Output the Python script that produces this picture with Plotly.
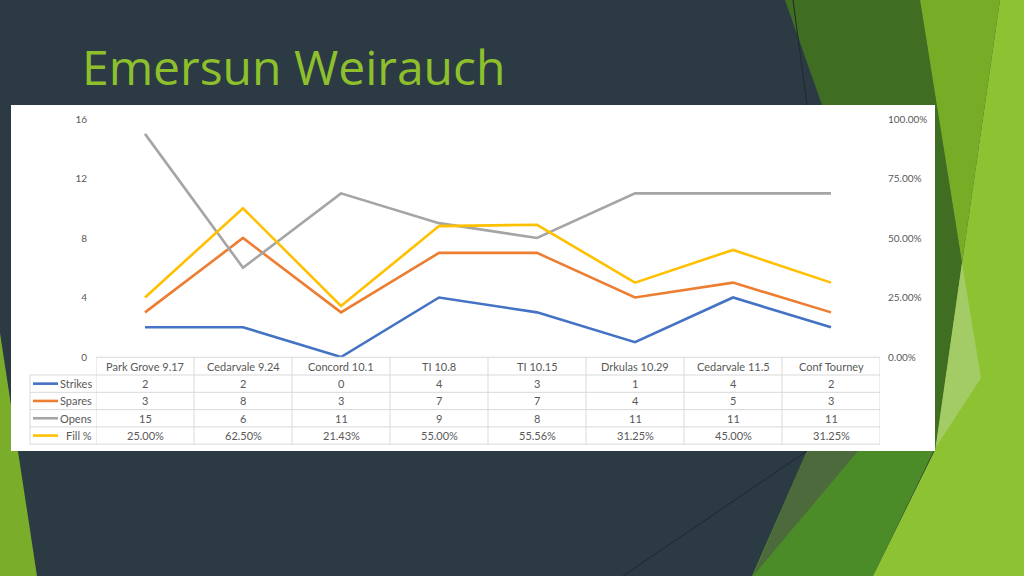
import plotly.graph_objects as go

# ---------------- data ----------------
categories = ["Park Grove 9.17", "Cedarvale 9.24", "Concord 10.1", "TI 10.8",
              "TI 10.15", "Drkulas 10.29", "Cedarvale 11.5", "Conf Tourney"]
strikes = [2, 2, 0, 4, 3, 1, 4, 2]
spares = [3, 8, 3, 7, 7, 4, 5, 3]
opens = [15, 6, 11, 9, 8, 11, 11, 11]
fill_pct = [0.25, 0.625, 0.2143, 0.55, 0.5556, 0.3125, 0.45, 0.3125]
series_names = ["Strikes", "Spares", "Opens", "Fill %"]
left_ticks = [0, 4, 8, 12, 16]
right_ticks = [0, 0.25, 0.5, 0.75, 1.0]
title_text = "Emersun Weirauch"

# ---------------- style ----------------
W, H = 1024, 576
def px(x): return x / W
def py(y): return 1 - y / H

colors = ["#4472C4", "#ED7D31", "#A5A5A5", "#FFC000"]
BG = "#2C3A44"
TXT = "#595959"
GRID = "#D9D9D9"
FONT = "Lato"
CLEAR = "rgba(0,0,0,0)"

fig = go.Figure()

counts = [strikes, spares, opens]
for name, vals, col in zip(series_names[:3], counts, colors[:3]):
    fig.add_trace(go.Scatter(x=categories, y=vals, mode="lines", name=name,
                             line=dict(color=col, width=2.6), cliponaxis=False,
                             yaxis="y", xaxis="x"))
fig.add_trace(go.Scatter(x=categories, y=fill_pct, mode="lines", name=series_names[3],
                         line=dict(color=colors[3], width=2.6), cliponaxis=False,
                         yaxis="y2", xaxis="x"))

shapes = []
annotations = []

def poly(pts, color, layer="below"):
    path = "M " + " L ".join(f"{px(x)},{py(y)}" for x, y in pts) + " Z"
    return dict(type="path", xref="paper", yref="paper", path=path,
                fillcolor=color, line=dict(width=0), layer=layer)

# decorative slide background
shapes.append(poly([(785, 0), (920, 0), (962, 263), (935, 450), (860, 451), (822, 105)], "#3F6E23"))
shapes.append(poly([(807, 451), (935, 448), (873, 576), (752, 576)], "#4B8C29"))
shapes.append(poly([(807, 451), (858, 451), (753, 576)], "#4D6A3C"))
shapes.append(poly([(920, 0), (1000, 0), (962, 263)], "#77AC26"))
shapes.append(poly([(1000, 0), (1024, 0), (1024, 576), (873, 576), (935, 450), (962, 263)], "#8DC232"))
shapes.append(poly([(962, 263), (981, 378), (936, 447)], "#A3CC66"))
shapes.append(poly([(0, 333), (37, 576), (0, 576)], "#7AAE2A"))
shapes.append(dict(type="line", xref="paper", yref="paper", x0=px(793), y0=py(0), x1=px(807), y1=py(105),
                   line=dict(color="#1E2830", width=1), layer="below"))
shapes.append(dict(type="line", xref="paper", yref="paper", x0=px(623), y0=py(576), x1=px(807), y1=py(451),
                   line=dict(color="#1E2830", width=1), layer="below"))
shapes.append(dict(type="rect", xref="paper", yref="paper", x0=px(11), x1=px(935),
                   y0=py(451), y1=py(105), fillcolor="white", line=dict(width=0), layer="below"))

# ---------------- data table (aligned to the category axis) ----------------
table_top = 357.3
header_h, row_h = 17.7, 17.3
label_left = 30
n = len(categories)
row_values = [[str(v) for v in strikes], [str(v) for v in spares],
              [str(v) for v in opens], [f"{v:.2%}" for v in fill_pct]]
cell_font = dict(family=FONT, size=11, color=TXT)
grid_line = dict(color=GRID, width=1)

body_top = table_top + header_h
table_bottom = body_top + row_h * len(series_names)
for j, cat in enumerate(categories):
    annotations.append(dict(text=cat, x=cat, xref="x", y=py(table_top + header_h / 2), yref="paper",
                            xanchor="center", yanchor="middle", showarrow=False, font=cell_font))
shapes.append(dict(type="line", xref="x", yref="paper", x0=-0.5, x1=n - 0.5,
                   y0=py(table_top), y1=py(table_top), line=grid_line))
for i in range(len(series_names) + 1):
    yl = body_top + row_h * i
    shapes.append(dict(type="line", xref="paper", yref="paper", x0=px(label_left), x1=px(880),
                       y0=py(yl), y1=py(yl), line=grid_line))
for j in range(n + 1):
    shapes.append(dict(type="line", xref="x", yref="paper", x0=j - 0.5, x1=j - 0.5,
                       y0=py(table_top), y1=py(table_bottom), line=grid_line))
shapes.append(dict(type="line", xref="paper", yref="paper", x0=px(label_left), x1=px(label_left),
                   y0=py(body_top), y1=py(table_bottom), line=grid_line))
for i, (name, col, vals) in enumerate(zip(series_names, colors, row_values)):
    yc = py(body_top + row_h * (i + 0.5))
    annotations.append(dict(text=name, x=px(94), xref="paper", y=yc, yref="paper",
                            xanchor="right", yanchor="middle", showarrow=False, font=cell_font))
    shapes.append(dict(type="line", xref="paper", yref="paper", x0=px(33), x1=px(58),
                       y0=yc, y1=yc, line=dict(color=col, width=2.6)))
    for j, cat in enumerate(categories):
        annotations.append(dict(text=vals[j], x=cat, xref="x", y=yc, yref="paper",
                                xanchor="center", yanchor="middle", showarrow=False, font=cell_font))

annotations.append(dict(text=title_text, xref="paper", yref="paper", x=px(80), y=py(66),
                        xanchor="left", yanchor="middle", showarrow=False,
                        font=dict(family="Open Sans", size=48, color="#8DC02C")))

fig.update_layout(
    width=W, height=H, margin=dict(l=0, r=0, t=0, b=0, pad=0, autoexpand=False),
    paper_bgcolor=BG, plot_bgcolor=CLEAR, showlegend=False,
    font=dict(family=FONT, color=TXT),
    xaxis=dict(domain=[px(96), px(880)], range=[-0.5, n - 0.5], automargin=False,
               showticklabels=False, showgrid=False, zeroline=False, showline=False, ticks=""),
    yaxis=dict(domain=[py(357), py(119)], range=[0, 16], tickvals=left_ticks, automargin=False,
               showgrid=False, zeroline=False, showline=False, ticks="",
               tickfont=dict(family=FONT, size=10, color=TXT), ticklabelstandoff=8),
    yaxis2=dict(overlaying="y", side="right", range=[0, 1], tickvals=right_ticks, automargin=False,
                tickformat=".2%", showgrid=False, zeroline=False, showline=False, ticks="",
                tickfont=dict(family=FONT, size=10, color=TXT), ticklabelstandoff=7),
    shapes=shapes,
    annotations=annotations,
)

fig.write_html("out.html", config={"displayModeBar": False},
               post_script="document.body.style.margin='0px';document.body.style.overflow='hidden';")
